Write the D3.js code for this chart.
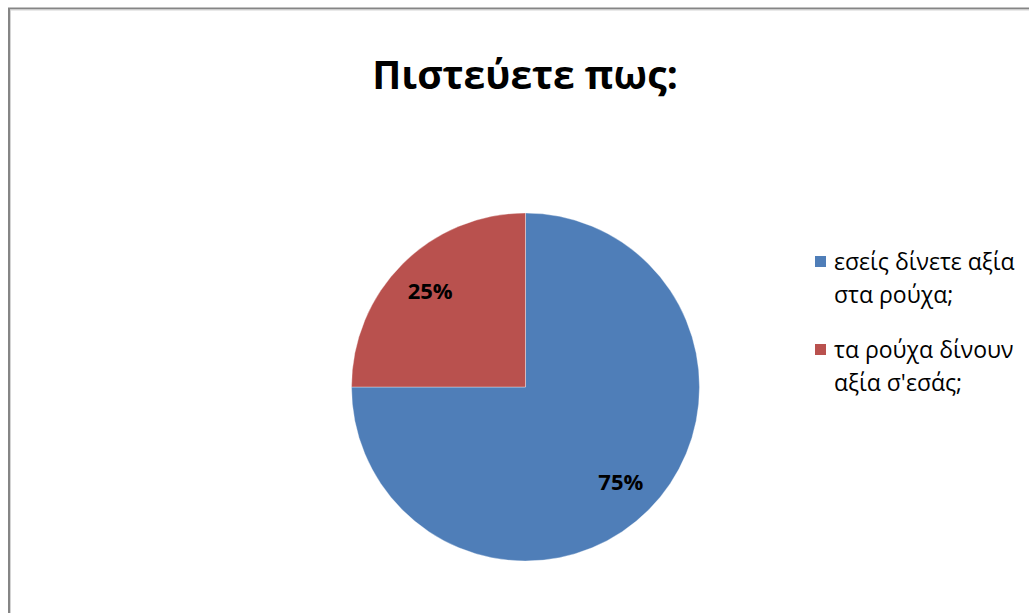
<!DOCTYPE html>
<html>
  <head>
    <meta charset="utf-8">
    <title>Πιστεύετε πως:</title>
    <style>
      body { margin: 0; background: #fff; }
      text { font-family: "Open Sans", "Noto Sans", sans-serif; }
    </style>
  </head>
  <body>
    <script src="https://d3js.org/d3.v7.min.js"></script>
    <script>
        // chart data
        var categories = ["εσείς δίνετε αξία στα ρούχα;", "τα ρούχα δίνουν αξία σ'εσάς;"];
        var legendLines = [["εσείς δίνετε αξία", "στα ρούχα;"], ["τα ρούχα δίνουν", "αξία σ'εσάς;"]];
        var values = [75, 25];
        var colors = ["#4F7EB8", "#B9514E"];

        var width = 1029, height = 613;
        var cx = 525.5, cy = 387, radius = 174;

        var svg = d3.select("body").append("svg")
            .attr("width", width)
            .attr("height", height);

        // outer frame (only top and left edge visible)
        svg.append("path")
            .attr("d", "M9," + height + "V8.5H" + width)
            .attr("fill", "none")
            .attr("stroke", "#858585")
            .attr("stroke-width", 2);
        svg.append("path")
            .attr("d", "M10.5," + height + "V10H" + width)
            .attr("fill", "none")
            .attr("stroke", "#d4d4d4")
            .attr("stroke-width", 1);

        svg.append("text")
            .attr("x", 525)
            .attr("y", 89)
            .attr("text-anchor", "middle")
            .style("font-size", "39px")
            .style("font-weight", "bold")
            .attr("fill", "#000")
            .text("Πιστεύετε πως:");

        var data = values.map(function(v, i) { return {name: categories[i], value: v, color: colors[i]}; });
        var pie = d3.pie().sort(null).value(function(d) { return d.value; });
        var arc = d3.arc().innerRadius(0).outerRadius(radius);
        var labelArc = d3.arc().innerRadius(radius * 0.775).outerRadius(radius * 0.775);
        var total = d3.sum(values);

        var g = svg.append("g").attr("transform", "translate(" + cx + "," + cy + ")");

        g.selectAll("path.slice")
            .data(pie(data))
            .enter().append("path")
            .attr("class", "slice")
            .attr("d", arc)
            .attr("fill", function(d) { return d.data.color; })
            .attr("stroke", "rgba(255,255,255,0.35)")
            .attr("stroke-width", 1);

        g.selectAll("text.pct")
            .data(pie(data))
            .enter().append("text")
            .attr("class", "pct")
            .attr("transform", function(d) { return "translate(" + labelArc.centroid(d) + ")"; })
            .attr("text-anchor", "middle")
            .attr("dy", "0.35em")
            .style("font-size", "22px")
            .style("font-weight", "bold")
            .attr("fill", "#000")
            .text(function(d) { return Math.round(d.data.value / total * 100) + "%"; });

        // legend
        var legend = svg.append("g").attr("transform", "translate(815,0)");
        var item = legend.selectAll("g.item")
            .data(data)
            .enter().append("g")
            .attr("class", "item")
            .attr("transform", function(d, i) { return "translate(0," + (256 + i * 88) + ")"; });

        item.append("rect")
            .attr("width", 11)
            .attr("height", 11)
            .attr("fill", function(d) { return d.color; });

        item.each(function(d, i) {
            var t = d3.select(this).append("text")
                .attr("x", 19)
                .attr("y", 14)
                .style("font-size", "23px")
                .attr("fill", "#000");
            legendLines[i].forEach(function(line, j) {
                t.append("tspan").attr("x", 19).attr("dy", j ? 33 : 0).text(line);
            });
        });
    </script>
  </body>
</html>
